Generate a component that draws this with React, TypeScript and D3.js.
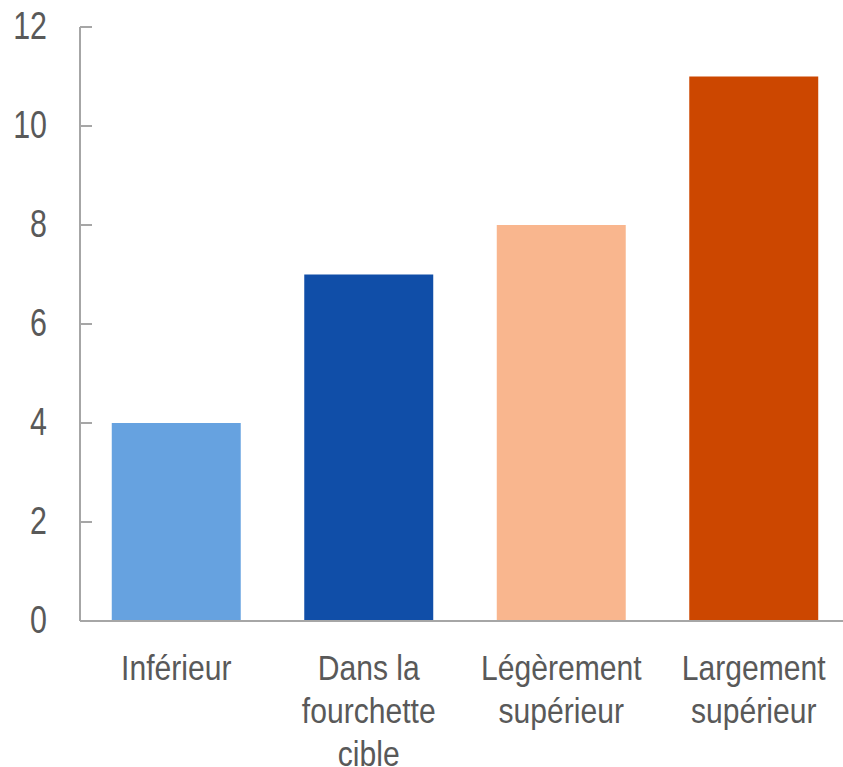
import React from "react";
import * as d3 from "d3";

const categories: string[][] = [
  ["Inférieur"],
  ["Dans la", "fourchette", "cible"],
  ["Légèrement", "supérieur"],
  ["Largement", "supérieur"],
];
const values: number[] = [4, 7, 8, 11];
const barColors: string[] = ["#66A2E0", "#104EA8", "#F9B68E", "#CC4700"];
const yTicks: number[] = [0, 2, 4, 6, 8, 10, 12];

const W = 843;
const H = 767;
const left = 80;
const rightEdge = 850;
const top = 27;
const bottom = 621;
const FONT = "'Liberation Sans Narrow', 'Arial Narrow', 'Liberation Sans', Arial, sans-serif";

export default function App() {
  const keys = categories.map((c) => c.join(" "));
  const x = d3.scaleBand<string>().domain(keys).range([left, rightEdge]).paddingInner(0.33).paddingOuter(0.165);
  const y = d3.scaleLinear().domain([0, 12]).range([bottom, top]);
  const axisColor = "#A6A6A6";
  const textColor = "#595959";

  return (
    <svg width={W} height={H} style={{ position: "absolute", left: 0, top: 0, background: "#fff" }}>
      {values.map((v, i) => (
        <rect
          key={keys[i]}
          x={x(keys[i])}
          y={y(v)}
          width={x.bandwidth()}
          height={y(0) - y(v)}
          fill={barColors[i]}
        />
      ))}
      <line x1={left} x2={left} y1={y(12)} y2={y(0)} stroke={axisColor} strokeWidth={2} />
      <line x1={left} x2={W} y1={y(0)} y2={y(0)} stroke={axisColor} strokeWidth={2} />
      {yTicks.map((t) => (
        <g key={t}>
          {t > 0 && (
            <line x1={left} x2={left + 12} y1={y(t)} y2={y(t)} stroke={axisColor} strokeWidth={2} />
          )}
          <text
            transform={`translate(47,${y(t) - 2}) scale(0.8,1)`}
            dy="0.36em"
            textAnchor="end"
            fontFamily={FONT}
            fontSize={38}
            fill={textColor}
          >
            {t}
          </text>
        </g>
      ))}
      {categories.map((lines, i) => {
        const cx = (x(keys[i]) ?? 0) + x.bandwidth() / 2;
        return (
          <g key={keys[i]}>
            {lines.map((l, j) => (
              <text
                key={j}
                transform={`translate(${cx},${680 + j * 43}) scale(0.86,1)`}
                textAnchor="middle"
                fontFamily={FONT}
                fontSize={35}
                fill={textColor}
              >
                {l}
              </text>
            ))}
          </g>
        );
      })}
    </svg>
  );
}
